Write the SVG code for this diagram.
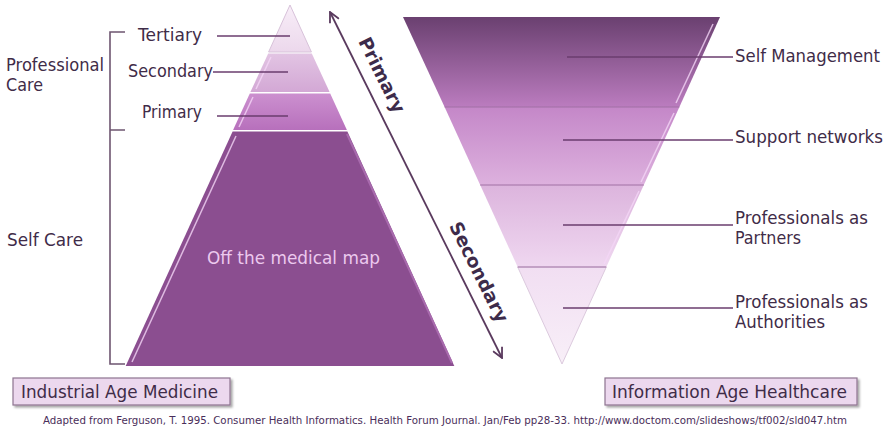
<svg xmlns="http://www.w3.org/2000/svg" width="888" height="436" viewBox="0 0 888 436">
<defs>
<linearGradient id="gTer" x1="0" y1="0" x2="0" y2="1"><stop offset="0" stop-color="#f8eef8"/><stop offset="1" stop-color="#ecd8ec"/></linearGradient>
<linearGradient id="gSec" x1="0" y1="0" x2="0" y2="1"><stop offset="0" stop-color="#e2c4e3"/><stop offset="1" stop-color="#d3a8d5"/></linearGradient>
<linearGradient id="gPri" x1="0" y1="0" x2="0" y2="1"><stop offset="0" stop-color="#cc90cf"/><stop offset="1" stop-color="#b770bc"/></linearGradient>
<linearGradient id="gR1" x1="0" y1="0" x2="0" y2="1"><stop offset="0" stop-color="#6a4070"/><stop offset="1" stop-color="#bb7cbf"/></linearGradient>
<linearGradient id="gR2" x1="0" y1="0" x2="0" y2="1"><stop offset="0" stop-color="#c487c8"/><stop offset="1" stop-color="#ddb1de"/></linearGradient>
<linearGradient id="gR3" x1="0" y1="0" x2="0" y2="1"><stop offset="0" stop-color="#dcb4dd"/><stop offset="1" stop-color="#efd7f0"/></linearGradient>
<linearGradient id="gR4" x1="0" y1="0" x2="0" y2="1"><stop offset="0" stop-color="#f1def2"/><stop offset="1" stop-color="#f8eff8"/></linearGradient>
<marker id="arr" viewBox="0 0 12 12" refX="11" refY="6" markerWidth="12" markerHeight="12" markerUnits="userSpaceOnUse" orient="auto-start-reverse">
<path d="M1,1 L11,6 L1,11" fill="none" stroke="#5a3a5e" stroke-width="1.8"/>
</marker>
<filter id="sh" x="-10%" y="-20%" width="125%" height="160%"><feDropShadow dx="2" dy="2" stdDeviation="1.2" flood-color="#000" flood-opacity="0.35"/></filter>
</defs>
<style>
.lbl{font-family:"DejaVu Sans",Verdana,sans-serif;font-size:17px;fill:#3f2c48}
.ln{stroke:#6a3d6e;stroke-width:1.6;fill:none}
.br{stroke:#6e5570;stroke-width:1.6;fill:none}
.hl{stroke:#f4d6f6;stroke-width:1.5;fill:none;opacity:0.8}
.sep{stroke:#a070a4;stroke-width:1;fill:none}
.box{fill:#ecd8ee;stroke:#8e7490;stroke-width:1.2}
.rot{font-family:"DejaVu Sans",Verdana,sans-serif;font-size:18.5px;font-weight:bold;fill:#3d2b4a}
.foot{font-family:"DejaVu Sans Condensed","DejaVu Sans",Tahoma,sans-serif;font-size:10.5px;fill:#4a2e5a}
</style>
<rect width="888" height="436" fill="#ffffff"/>

<g id="left-pyramid">
<g id="tier-tertiary"><polygon points="290,5 311.4,52 268.6,52" fill="url(#gTer)" stroke="#d8c2da" stroke-width="1"/></g>
<g id="tier-secondary"><polygon points="268.2,53.5 311.8,53.5 329.6,92 250.4,92" fill="url(#gSec)"/><line class="hl" x1="271" y1="57" x2="256" y2="89"/></g>
<g id="tier-primary"><polygon points="249.8,93.5 330.2,93.5 346.9,130 233.1,130" fill="url(#gPri)"/><line class="hl" x1="253" y1="97" x2="239" y2="127"/></g>
<g id="tier-offmap"><polygon points="232.6,131.5 347.4,131.5 454.3,366 125.7,366" fill="#8b4e90"/>
<line class="hl" x1="236" y1="136" x2="132" y2="362"/>
<line x1="347" y1="134" x2="452" y2="363" stroke="#a86aad" stroke-width="2"/>
<text x="293.5" y="264" text-anchor="middle" font-family="'DejaVu Sans',Verdana,sans-serif" font-size="17" fill="#ecc9ee" textLength="173" lengthAdjust="spacingAndGlyphs">Off the medical map</text></g>
</g>

<g id="left-labels">
<g id="lbl-tertiary"><text class="lbl" x="138" y="41" textLength="64" lengthAdjust="spacingAndGlyphs">Tertiary</text></g>
<g id="lbl-secondary"><text class="lbl" x="128" y="77" textLength="85" lengthAdjust="spacingAndGlyphs">Secondary</text></g>
<g id="lbl-primary"><text class="lbl" x="142" y="118" textLength="60" lengthAdjust="spacingAndGlyphs">Primary</text></g>
<g id="lbl-professional"><text class="lbl" x="6" y="71" textLength="98" lengthAdjust="spacingAndGlyphs">Professional</text><text class="lbl" x="6" y="91" textLength="37" lengthAdjust="spacingAndGlyphs">Care</text></g>
<g id="lbl-selfcare"><text class="lbl" x="7" y="246" textLength="76" lengthAdjust="spacingAndGlyphs">Self Care</text></g>
</g>

<g id="right-pyramid">
<g id="band-self"><polygon points="403,17 720,17 679.4,107 444.6,107" fill="url(#gR1)"/><line class="hl" x1="713" y1="24" x2="676" y2="103"/></g>
<g id="band-support"><polygon points="444.6,107 679.4,107 643.8,185 480.2,185" fill="url(#gR2)"/><line class="hl" x1="674" y1="113" x2="641" y2="182"/></g>
<g id="band-partners"><polygon points="480.2,185 643.8,185 606.3,267 517.7,267" fill="url(#gR3)"/><line class="hl" x1="639" y1="191" x2="604" y2="264"/></g>
<g id="band-authorities"><polygon points="517.7,267 606.3,267 562,364" fill="url(#gR4)" stroke="#dccade" stroke-width="1"/></g>
<line class="sep" x1="444.6" y1="107" x2="679.4" y2="107"/>
<line class="sep" x1="480.2" y1="185" x2="643.8" y2="185"/>
<line class="sep" x1="517.7" y1="267" x2="606.3" y2="267" stroke="#c8a8ca"/>
</g>

<g id="right-labels">
<g id="lbl-selfmgmt"><text class="lbl" x="735" y="62" textLength="145" lengthAdjust="spacingAndGlyphs">Self Management</text></g>
<g id="lbl-support"><text class="lbl" x="735" y="143" textLength="148" lengthAdjust="spacingAndGlyphs">Support networks</text></g>
<g id="lbl-partners"><text class="lbl" x="735" y="224" textLength="133" lengthAdjust="spacingAndGlyphs">Professionals as</text><text class="lbl" x="735" y="244" textLength="66" lengthAdjust="spacingAndGlyphs">Partners</text></g>
<g id="lbl-authorities"><text class="lbl" x="735" y="308" textLength="133" lengthAdjust="spacingAndGlyphs">Professionals as</text><text class="lbl" x="735" y="328" textLength="90" lengthAdjust="spacingAndGlyphs">Authorities</text></g>
</g>

<g id="box-industrial"><rect class="box" x="13" y="378" width="217" height="27" filter="url(#sh)"/><text class="lbl" x="21" y="398" textLength="197" lengthAdjust="spacingAndGlyphs">Industrial Age Medicine</text></g>
<g id="box-information"><rect class="box" x="605" y="378" width="252" height="27" filter="url(#sh)"/><text class="lbl" x="612" y="398" textLength="235" lengthAdjust="spacingAndGlyphs">Information Age Healthcare</text></g>

<g id="axis-labels">
<text class="rot" x="382" y="75" text-anchor="middle" dominant-baseline="central" transform="rotate(63.57 382 75)">Primary</text>
<text class="rot" x="479" y="272" text-anchor="middle" dominant-baseline="central" transform="rotate(63.57 479 272)">Secondary</text>
</g>

<g id="connectors">
<path class="ln" d="M217,36 H290"/>
<path class="ln" d="M213,72 H288"/>
<path class="ln" d="M217,116 H288"/>
<path class="br" d="M125,32 H110 V364 H125 M110,130 H125"/>
<path class="ln" d="M567,57 H733"/>
<path class="ln" d="M563,140 H733"/>
<path class="ln" d="M563,225 H733"/>
<path class="ln" d="M563,308 H733"/>
<line x1="330" y1="12" x2="502" y2="358" stroke="#5a3a5e" stroke-width="1.8" marker-start="url(#arr)" marker-end="url(#arr)"/>
</g>

<g id="footer"><text class="foot" x="445" y="424" text-anchor="middle" textLength="804" lengthAdjust="spacingAndGlyphs">Adapted from Ferguson, T. 1995. Consumer Health Informatics. Health Forum Journal. Jan/Feb pp28-33. http://www.doctom.com/slideshows/tf002/sld047.htm</text></g>
</svg>
